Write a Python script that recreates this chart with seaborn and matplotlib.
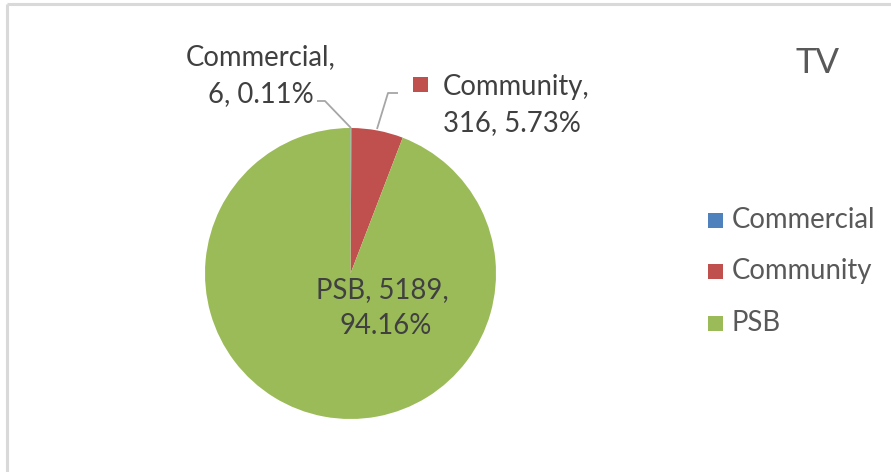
import matplotlib
matplotlib.use("Agg")
import matplotlib.pyplot as plt
from matplotlib.patches import Rectangle
import seaborn as sns

# Data
categories = ["Commercial", "Community", "PSB"]
counts = [6, 316, 5189]
colors = ["#4F81BD", "#C0504D", "#9BBB59"]
title = "TV"

sns.set_theme(style="white")
plt.rcParams["font.family"] = ["Lato", "DejaVu Sans"]

W, H = 891, 472
fig = plt.figure(figsize=(W / 100, H / 100), dpi=100)
ax = fig.add_axes([0, 0, 1, 1])


def Y(y):
    """Convert a top-based pixel row to axes data coordinates."""
    return H - y


total = sum(counts)
pcts = [c / total * 100 for c in counts]

# Pie, starting at 12 o'clock and running clockwise
cx, cy, r = 350.5, 273.5, 145.5
ax.pie(counts, colors=colors, startangle=90, counterclock=False,
       center=(cx, Y(cy)), radius=r, frame=True,
       wedgeprops=dict(linewidth=0))
ax.set_xlim(0, W)
ax.set_ylim(0, H)
ax.set_aspect("equal")
ax.axis("off")

label_color = "#404040"
legend_color = "#595959"
fs = 19.8

# Leader lines
lead = "#A6A6A6"
ax.plot([317, 325, 351], [Y(101), Y(101), Y(128)], color=lead, lw=1.3,
        solid_capstyle="butt")
ax.plot([398, 388, 377], [Y(93), Y(93), Y(129)], color=lead, lw=1.3,
        solid_capstyle="butt")

# Commercial label
ax.text(261, Y(57), f"{categories[0]},", ha="center", va="center",
        fontsize=fs, color=label_color)
ax.text(261, Y(94), f"{counts[0]}, {pcts[0]:.2f}%", ha="center",
        va="center", fontsize=fs, color=label_color)

# Community label with legend key
ax.add_patch(Rectangle((413, Y(92)), 15, 15, facecolor=colors[1],
                       edgecolor="none"))
ax.text(443, Y(87), f"{categories[1]},", ha="left", va="center",
        fontsize=fs, color=label_color)
ax.text(512, Y(123), f"{counts[1]}, {pcts[1]:.2f}%", ha="center",
        va="center", fontsize=fs, color=label_color)

# PSB label
ax.text(382, Y(290), f"{categories[2]}, {counts[2]},", ha="center",
        va="center", fontsize=fs, color=label_color)
ax.text(386, Y(326), f"{pcts[2]:.2f}%", ha="center", va="center",
        fontsize=fs, color=label_color)

# Title
ax.text(817, Y(63), title, ha="center", va="center", fontsize=25,
        color=legend_color)

# Legend
for i, (cat, col) in enumerate(zip(categories, colors)):
    yy = 220 + i * 51.5
    ax.add_patch(Rectangle((708, Y(yy) - 7.5), 15, 15, facecolor=col,
                           edgecolor="none"))
    ax.text(732, Y(yy), cat, ha="left", va="center", fontsize=fs,
            color=legend_color)

# Chart area border (top and left edges)
ax.plot([7, 7], [0, Y(4)], color="#D9D9D9", lw=2.2, solid_capstyle="butt")
ax.plot([7, W], [Y(4), Y(4)], color="#D9D9D9", lw=2.2,
        solid_capstyle="butt")

fig.savefig("out.png", dpi=100, facecolor="white")
